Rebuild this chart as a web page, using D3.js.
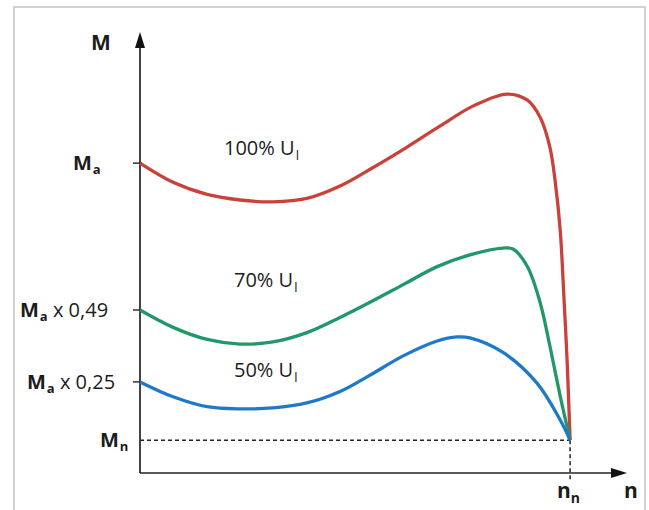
<!DOCTYPE html>
<html>
<head>
<meta charset="utf-8">
<script src="https://cdn.jsdelivr.net/npm/d3@7"></script>
<style>
  body { margin: 0; background: #fff; }
  text { font-family: "Open Sans", "Noto Sans", sans-serif; fill: #1c1c1c; }
</style>
</head>
<body>
<script>
const w = 649;
const h = 510;

// speed (n) in % of rated speed, torque (M) in arbitrary units, Ma = 100
const speed100 = [0, 7.7, 15.6, 23.3, 30.9, 38.8, 46.5, 54.2, 62.1, 69.8, 77.4, 85.3, 90.0, 93.0, 95.3, 96.5, 97.7, 98.6, 99.3, 100];
const torque100 = [100, 93.8, 89.9, 88.1, 87.5, 88.6, 92.6, 98.6, 105.2, 112.0, 118.4, 122.3, 120.4, 114.9, 105.2, 94.5, 78.4, 55.8, 36.5, 10.6];

const speed70 = [0, 7.7, 15.6, 23.3, 30.9, 38.8, 46.5, 54.7, 61.2, 69.1, 76.7, 84.4, 86.7, 90.0, 93.0, 95.3, 97.7, 100];
const torque70 = [52.6, 47.0, 43.1, 41.6, 42.3, 45.3, 50.2, 56.0, 60.8, 66.6, 70.4, 72.6, 72.3, 66.8, 55.2, 41.0, 24.8, 10.6];

const speed50 = [0, 7.7, 15.6, 23.3, 30.9, 38.8, 46.5, 53.5, 61.2, 69.1, 73.7, 76.7, 84.4, 92.3, 97.7, 100];
const torque50 = [29.4, 24.6, 21.4, 20.7, 21.0, 22.6, 26.3, 31.6, 37.8, 42.6, 43.9, 43.6, 38.9, 29.0, 17.1, 10.6];

const tickValues = [100, 52.6, 29.4, 10.6];
const tickLabels = [["M", "a", ""], ["M", "a", " x 0,49"], ["M", "a", " x 0,25"], ["M", "n", ""]];
const ratedSpeed = 100;
const ratedTorque = 10.6;

const seriesNames = ["100% U", "70% U", "50% U"];
const seriesColors = ["#c8423a", "#22976a", "#1f79c9"];

const svg = d3.select("body").append("svg").attr("width", w).attr("height", h);

// frame
svg.append("rect")
  .attr("x", 14).attr("y", 7)
  .attr("width", 631).attr("height", 520)
  .attr("fill", "none")
  .attr("stroke", "#c4c4c4")
  .attr("stroke-width", 1.5);

const x = d3.scaleLinear().domain([0, 113]).range([140, 626]);
const y = d3.scaleLinear().domain([0, 142]).range([473, 33]);

// dashed guides to the rated point
svg.append("line")
  .attr("x1", x(0)).attr("x2", x(ratedSpeed))
  .attr("y1", y(ratedTorque)).attr("y2", y(ratedTorque))
  .attr("stroke", "#222").attr("stroke-width", 1.5)
  .attr("stroke-dasharray", "4,3");
svg.append("line")
  .attr("x1", x(ratedSpeed)).attr("x2", x(ratedSpeed))
  .attr("y1", y(ratedTorque)).attr("y2", y(0) + 7)
  .attr("stroke", "#222").attr("stroke-width", 1.5)
  .attr("stroke-dasharray", "4,3");

// axes with arrows
svg.append("line")
  .attr("x1", x(0)).attr("x2", x(0))
  .attr("y1", y(0)).attr("y2", y(142) + 10)
  .attr("stroke", "#222").attr("stroke-width", 1.7);
svg.append("path")
  .attr("d", "M" + x(0) + "," + (y(142) - 1) + " l-5,16 l10,0 z")
  .attr("fill", "#111");
svg.append("line")
  .attr("x1", x(0)).attr("x2", x(113) - 10)
  .attr("y1", y(0)).attr("y2", y(0))
  .attr("stroke", "#222").attr("stroke-width", 1.7);
svg.append("path")
  .attr("d", "M" + (x(113) + 1) + "," + y(0) + " l-16,-5 l0,10 z")
  .attr("fill", "#111");

// y ticks
svg.selectAll(".ytick")
  .data(tickValues.slice(0, 3))
  .enter()
  .append("line")
  .attr("x1", x(0) - 7).attr("x2", x(0) + 2)
  .attr("y1", d => y(d)).attr("y2", d => y(d))
  .attr("stroke", "#222").attr("stroke-width", 1.4);

// y tick labels
const labelX = [73, 20, 27, 100];
tickLabels.forEach((lab, i) => {
  const t = svg.append("text")
    .attr("x", labelX[i])
    .attr("y", y(tickValues[i]) + 7)
    .style("font-size", "20px");
  t.append("tspan").text(lab[0]).style("font-weight", 700);
  t.append("tspan").text(lab[1])
    .attr("dx", 1).attr("dy", 4).style("font-size", "13px").style("font-weight", 700);
  if (lab[2]) t.append("tspan").text(lab[2]).attr("dy", -4);
});

// axis names
svg.append("text").attr("x", 91).attr("y", 50)
  .style("font-size", "21px").style("font-weight", 700).text("M");
svg.append("text").attr("x", 624).attr("y", 498)
  .style("font-size", "21px").style("font-weight", 700).text("n");
const nn = svg.append("text").attr("x", 557).attr("y", 498)
  .style("font-size", "21px").style("font-weight", 700);
nn.append("tspan").text("n");
nn.append("tspan").text("n").attr("dy", 5).style("font-size", "14px");

// curves
const line = d3.line()
  .x(d => x(d[0]))
  .y(d => y(d[1]))
  .curve(d3.curveCatmullRom.alpha(0.5));

const series = [
  d3.zip(speed100, torque100),
  d3.zip(speed70, torque70),
  d3.zip(speed50, torque50)
];

svg.selectAll(".curve")
  .data(series)
  .enter()
  .append("path")
  .attr("class", "curve")
  .attr("d", line)
  .attr("fill", "none")
  .attr("stroke", (d, i) => seriesColors[i])
  .attr("stroke-width", 3.3)
  .attr("stroke-linejoin", "round");

// curve labels
const labelPos = [[224, 155], [234, 287], [234, 377]];
seriesNames.forEach((name, i) => {
  const t = svg.append("text")
    .attr("x", labelPos[i][0]).attr("y", labelPos[i][1])
    .style("font-size", "20px");
  t.append("tspan").text(name);
  t.append("tspan").text("l").attr("dx", 1).attr("dy", 5).style("font-size", "13px");
});
</script>
</body>
</html>
